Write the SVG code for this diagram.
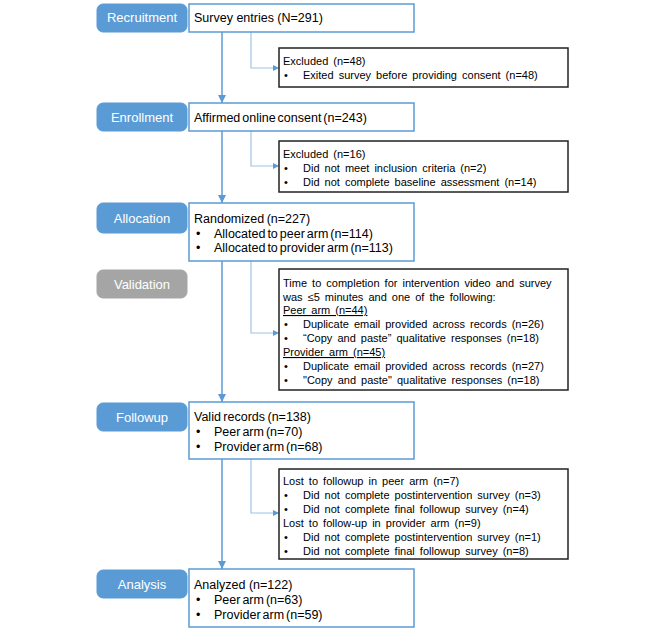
<svg xmlns="http://www.w3.org/2000/svg" width="666" height="639" viewBox="0 0 666 639">
<defs>
<style>
.pill{fill:#5b9bd5;stroke:#5b9bd5;stroke-width:1}
.pillg{fill:#a5a5a5;stroke:#a5a5a5;stroke-width:1}
.pt{font-family:"Liberation Sans",Arial,sans-serif;font-size:13px;fill:#fff;text-anchor:middle}
.box{fill:#fff;stroke:#5b9bd5;stroke-width:1.5}
.xbox{fill:#fff;stroke:#222;stroke-width:1.5}
.bt{font-family:"Liberation Sans",Arial,sans-serif;font-size:12.5px;fill:#000}
.st{font-family:"Liberation Sans",Arial,sans-serif;font-size:11px;fill:#000;word-spacing:2px}
.ln{fill:none;stroke:#5b9bd5;stroke-width:1.5}
.ln2{fill:none;stroke:#9dc3e6;stroke-width:1.2}
</style>
<marker id="ah" viewBox="0 0 10 10" refX="10" refY="5" markerWidth="5.3" markerHeight="5.3" orient="auto-start-reverse" markerUnits="strokeWidth">
<path d="M0,0 L10,5 L0,10 z" fill="#5b9bd5"/>
</marker>
<marker id="ah2" viewBox="0 0 10 10" refX="10" refY="5" markerWidth="5" markerHeight="5" orient="auto-start-reverse" markerUnits="strokeWidth">
<path d="M0,0 L10,5 L0,10 z" fill="#5b9bd5"/>
</marker>
</defs>

<g id="connectors">
<path class="ln" d="M222,32 V103" marker-end="url(#ah)"/>
<path class="ln" d="M222,131 V203" marker-end="url(#ah)"/>
<path class="ln" d="M222,261 V402" marker-end="url(#ah)"/>
<path class="ln" d="M222,459 V569" marker-end="url(#ah)"/>
<path class="ln2" d="M251,32 V68 H279" marker-end="url(#ah2)"/>
<path class="ln2" d="M251,131 V166 H279" marker-end="url(#ah2)"/>
<path class="ln2" d="M251,261 V333 H279" marker-end="url(#ah2)"/>
<path class="ln2" d="M251,459 V513 H279" marker-end="url(#ah2)"/>
</g>

<g id="stage-recruitment">
<rect class="pill" x="97" y="4" width="90" height="28" rx="6"/>
<text class="pt" x="142" y="22">Recruitment</text>
</g>
<g id="survey-entries">
<rect class="box" x="189" y="4" width="225" height="28"/>
<text class="bt" x="194" y="22">Survey entries (N=291)</text>
</g>
<g id="excluded-1">
<rect class="xbox" x="279" y="48" width="289" height="39"/>
<text class="st" x="283" y="65">Excluded (n=48)</text>
<text class="st" x="284" y="79">•</text>
<text class="st" x="303" y="79">Exited survey before providing consent (n=48)</text>
</g>

<g id="stage-enrollment">
<rect class="pill" x="97" y="103" width="90" height="28" rx="6"/>
<text class="pt" x="142" y="122">Enrollment</text>
</g>
<g id="consent">
<rect class="box" x="189" y="103" width="225" height="28"/>
<text class="bt" x="194" y="122" word-spacing="-1.5">Affirmed online consent (n=243)</text>
</g>
<g id="excluded-2">
<rect class="xbox" x="279" y="141" width="289" height="51"/>
<text class="st" x="283" y="158">Excluded (n=16)</text>
<text class="st" x="284" y="172">•</text>
<text class="st" x="303" y="172">Did not meet inclusion criteria (n=2)</text>
<text class="st" x="284" y="186">•</text>
<text class="st" x="303" y="186">Did not complete baseline assessment (n=14)</text>
</g>

<g id="stage-allocation">
<rect class="pill" x="97" y="203" width="90" height="30" rx="6"/>
<text class="pt" x="142" y="223">Allocation</text>
</g>
<g id="randomized">
<rect class="box" x="189" y="203" width="225" height="58"/>
<text class="bt" x="194" y="223" word-spacing="-1">Randomized (n=227)</text>
<text class="bt" x="196" y="238">•</text>
<text class="bt" x="214" y="238" word-spacing="-1.5">Allocated to peer arm (n=114)</text>
<text class="bt" x="196" y="252">•</text>
<text class="bt" x="214" y="252" word-spacing="-1.5">Allocated to provider arm (n=113)</text>
</g>

<g id="stage-validation">
<rect class="pillg" x="97" y="270" width="90" height="28" rx="6"/>
<text class="pt" x="142" y="289">Validation</text>
</g>
<g id="validation-excluded">
<rect class="xbox" x="279" y="269" width="289" height="121"/>
<text class="st" x="283" y="287">Time to completion for intervention video and survey</text>
<text class="st" x="283" y="301">was ≤5 minutes and one of the following:</text>
<text class="st" x="283" y="314" text-decoration="underline">Peer arm (n=44)</text>
<text class="st" x="284" y="328">•</text>
<text class="st" x="303" y="328">Duplicate email provided across records (n=26)</text>
<text class="st" x="284" y="342">•</text>
<text class="st" x="303" y="342">“Copy and paste” qualitative responses (n=18)</text>
<text class="st" x="283" y="356" text-decoration="underline">Provider arm (n=45)</text>
<text class="st" x="284" y="370">•</text>
<text class="st" x="303" y="370">Duplicate email provided across records (n=27)</text>
<text class="st" x="284" y="384">•</text>
<text class="st" x="303" y="384">"Copy and paste" qualitative responses (n=18)</text>
</g>

<g id="stage-followup">
<rect class="pill" x="97" y="403" width="90" height="28" rx="6"/>
<text class="pt" x="142" y="422">Followup</text>
</g>
<g id="valid-records">
<rect class="box" x="189" y="402" width="225" height="57"/>
<text class="bt" x="194" y="421" word-spacing="-1">Valid records (n=138)</text>
<text class="bt" x="196" y="436">•</text>
<text class="bt" x="214" y="436" word-spacing="-1.5">Peer arm (n=70)</text>
<text class="bt" x="196" y="451">•</text>
<text class="bt" x="214" y="451" word-spacing="-1.5">Provider arm (n=68)</text>
</g>
<g id="lost-followup">
<rect class="xbox" x="279" y="469" width="289" height="90"/>
<text class="st" x="283" y="485">Lost to followup in peer arm (n=7)</text>
<text class="st" x="284" y="499">•</text>
<text class="st" x="303" y="499">Did not complete postintervention survey (n=3)</text>
<text class="st" x="284" y="513">•</text>
<text class="st" x="303" y="513">Did not complete final followup survey (n=4)</text>
<text class="st" x="283" y="527">Lost to follow-up in provider arm (n=9)</text>
<text class="st" x="284" y="541">•</text>
<text class="st" x="303" y="541">Did not complete postintervention survey (n=1)</text>
<text class="st" x="284" y="555">•</text>
<text class="st" x="303" y="555">Did not complete final followup survey (n=8)</text>
</g>

<g id="stage-analysis">
<rect class="pill" x="97" y="570" width="90" height="28" rx="6"/>
<text class="pt" x="142" y="589">Analysis</text>
</g>
<g id="analyzed">
<rect class="box" x="189" y="569" width="225" height="58"/>
<text class="bt" x="194" y="589">Analyzed (n=122)</text>
<text class="bt" x="196" y="604">•</text>
<text class="bt" x="214" y="604" word-spacing="-1.5">Peer arm (n=63)</text>
<text class="bt" x="196" y="619">•</text>
<text class="bt" x="214" y="619" word-spacing="-1.5">Provider arm (n=59)</text>
</g>
</svg>
